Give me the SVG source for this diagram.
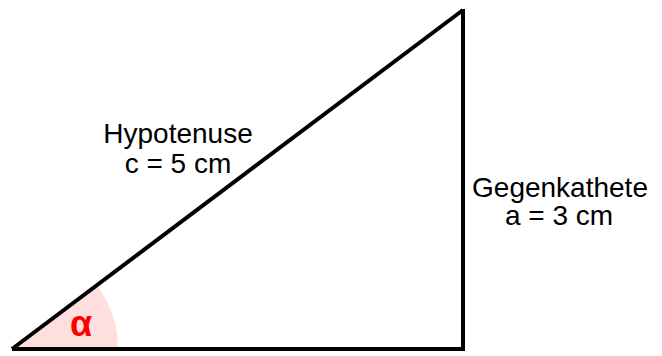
<svg xmlns="http://www.w3.org/2000/svg" width="662" height="356" viewBox="0 0 662 356">
<style>
.lbl{font-family:"Liberation Sans",Arial,sans-serif;font-size:28px;fill:#000;text-anchor:middle}
.edge{fill:none;stroke:#000;stroke-width:4}
</style>
<rect width="662" height="356" fill="#fff"/>
<g id="angle">
<path d="M12,349 L118,349 A106,106 0 0 0 96.8,285.4 Z" fill="#ffdede"/>
<text x="81" y="336" font-family="Liberation Sans,Arial,sans-serif" font-size="36" font-weight="bold" fill="#ff0000" text-anchor="middle">α</text>
</g>
<g id="connectors">
<line class="edge" x1="12" y1="349" x2="463" y2="10"/>
<line class="edge" x1="463" y1="9" x2="463" y2="351"/>
<line class="edge" x1="12" y1="349" x2="465" y2="349"/>
</g>
<g id="hypotenuse-label">
<text class="lbl" x="178" y="143">Hypotenuse</text>
<text class="lbl" x="178" y="173">c = 5 cm</text>
</g>
<g id="gegenkathete-label">
<text class="lbl" x="560" y="197">Gegenkathete</text>
<text class="lbl" x="559" y="225">a = 3 cm</text>
</g>
</svg>
